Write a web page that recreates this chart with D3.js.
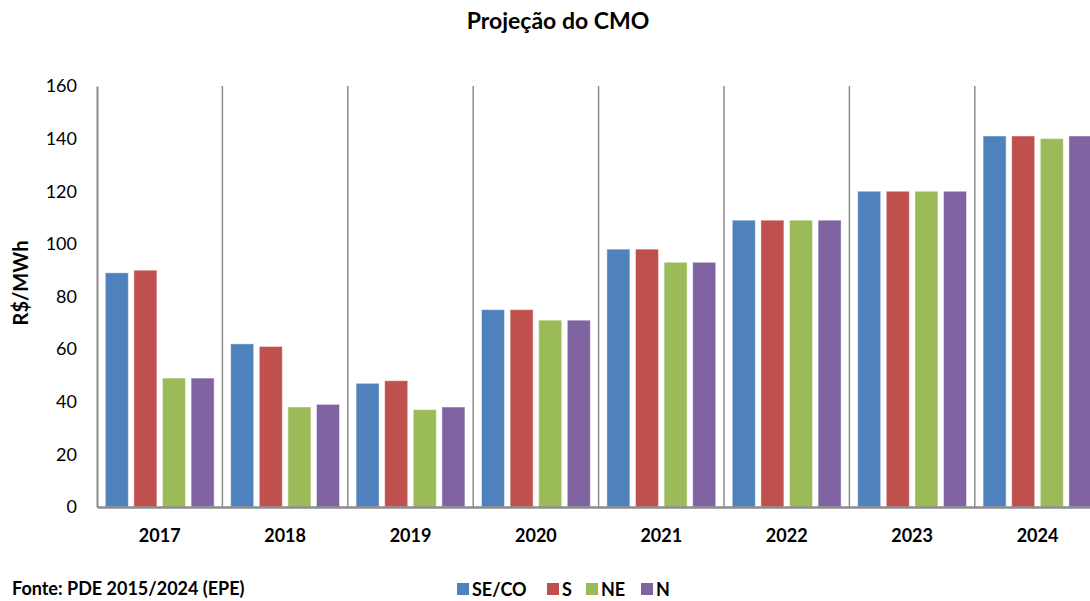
<!DOCTYPE html>
<html>
<head>
<meta charset="utf-8">
<script src="https://cdn.jsdelivr.net/npm/d3@7"></script>
<style>
  html, body { margin: 0; padding: 0; background: #fff; overflow: hidden; }
  svg { display: block; font-family: Lato, "Open Sans", sans-serif; }
</style>
</head>
<body>
<svg id="chart" width="1090" height="601"></svg>
<script>
// Projected marginal operating cost (R$/MWh) by subsystem
const years = ["2017", "2018", "2019", "2020", "2021", "2022", "2023", "2024"];
const series = ["SE/CO", "S", "NE", "N"];
const seco = [89, 62, 47, 75, 98, 109, 120, 141];
const sul  = [90, 61, 48, 75, 98, 109, 120, 141];
const ne   = [49, 38, 37, 71, 93, 109, 120, 140];
const norte = [49, 39, 38, 71, 93, 109, 120, 141];
const yTicks = [0, 20, 40, 60, 80, 100, 120, 140, 160];
const colors = ["#4F81BD", "#C0504D", "#9BBB59", "#8064A2"];

const values = [seco, sul, ne, norte];
const rows = years.map((yr, i) => ({
  year: yr,
  vals: series.map((s, j) => ({ key: s, value: values[j][i] }))
}));

const svg = d3.select("#chart");
const plotLeft = 97, plotTop = 86, plotBottom = 507;
const catW = 125.4;
const plotRight = plotLeft + catW * years.length;

const x = d3.scaleBand().domain(years).range([plotLeft, plotRight]).padding(0);
const x1 = d3.scaleBand().domain(series).range([0, x.bandwidth()])
  .paddingInner(0.196).paddingOuter(0.29);
const y = d3.scaleLinear().domain([0, 160]).range([plotBottom, plotTop]);
const color = d3.scaleOrdinal().domain(series).range(colors);

// Vertical category separators
svg.append("g").selectAll("line")
  .data(years)
  .join("line")
  .attr("x1", d => x(d) + x.bandwidth())
  .attr("x2", d => x(d) + x.bandwidth())
  .attr("y1", plotTop).attr("y2", plotBottom)
  .attr("stroke", "#8c8c8c").attr("stroke-width", 1.5);

// Bars
svg.append("g").selectAll("g")
  .data(rows)
  .join("g")
  .attr("transform", d => `translate(${x(d.year)},0)`)
  .selectAll("rect")
  .data(d => d.vals)
  .join("rect")
  .attr("x", d => x1(d.key))
  .attr("width", x1.bandwidth())
  .attr("y", d => y(d.value))
  .attr("height", d => y(0) - y(d.value))
  .attr("fill", d => color(d.key))
  .attr("stroke", "rgba(255,255,255,0.45)")
  .attr("stroke-width", 1);

// Y axis
const yAxis = svg.append("g")
  .attr("transform", `translate(${plotLeft},0)`)
  .call(d3.axisLeft(y).tickValues(yTicks).tickSize(0).tickPadding(20));
yAxis.select(".domain").attr("stroke", "#8c8c8c").attr("stroke-width", 2);
yAxis.selectAll("text")
  .attr("font-size", 18).attr("fill", "#000")
  .style("font-family", "Lato, sans-serif");

// X axis
const xAxis = svg.append("g")
  .attr("transform", `translate(0,${plotBottom})`)
  .call(d3.axisBottom(x).tickSize(0).tickPadding(22));
xAxis.select(".domain").attr("stroke", "#8c8c8c").attr("stroke-width", 2.5);
xAxis.selectAll("text")
  .attr("font-size", 18).attr("font-weight", "bold").attr("fill", "#000")
  .style("font-family", "Lato, sans-serif");

// Title
svg.append("text")
  .attr("x", 558).attr("y", 29)
  .attr("text-anchor", "middle")
  .attr("font-size", 23).attr("font-weight", "bold")
  .text("Projeção do CMO");

// Y axis title
svg.append("text")
  .attr("transform", "translate(28,283) rotate(-90)")
  .attr("text-anchor", "middle")
  .attr("font-size", 20).attr("font-weight", "bold")
  .text("R$/MWh");

// Legend
const legendPos = [457, 547, 586, 641];
const legend = svg.append("g").selectAll("g")
  .data(series)
  .join("g")
  .attr("transform", (d, i) => `translate(${legendPos[i]},583)`);
legend.append("rect")
  .attr("width", 12).attr("height", 12)
  .attr("fill", d => color(d));
legend.append("text")
  .attr("x", 15).attr("y", 12.5)
  .attr("font-size", 18).attr("font-weight", "bold")
  .text(d => d);

// Source note
svg.append("text")
  .attr("x", 12).attr("y", 595)
  .attr("font-size", 18).attr("font-weight", "bold")
  .text("Fonte: PDE 2015/2024 (EPE)");
</script>
</body>
</html>
